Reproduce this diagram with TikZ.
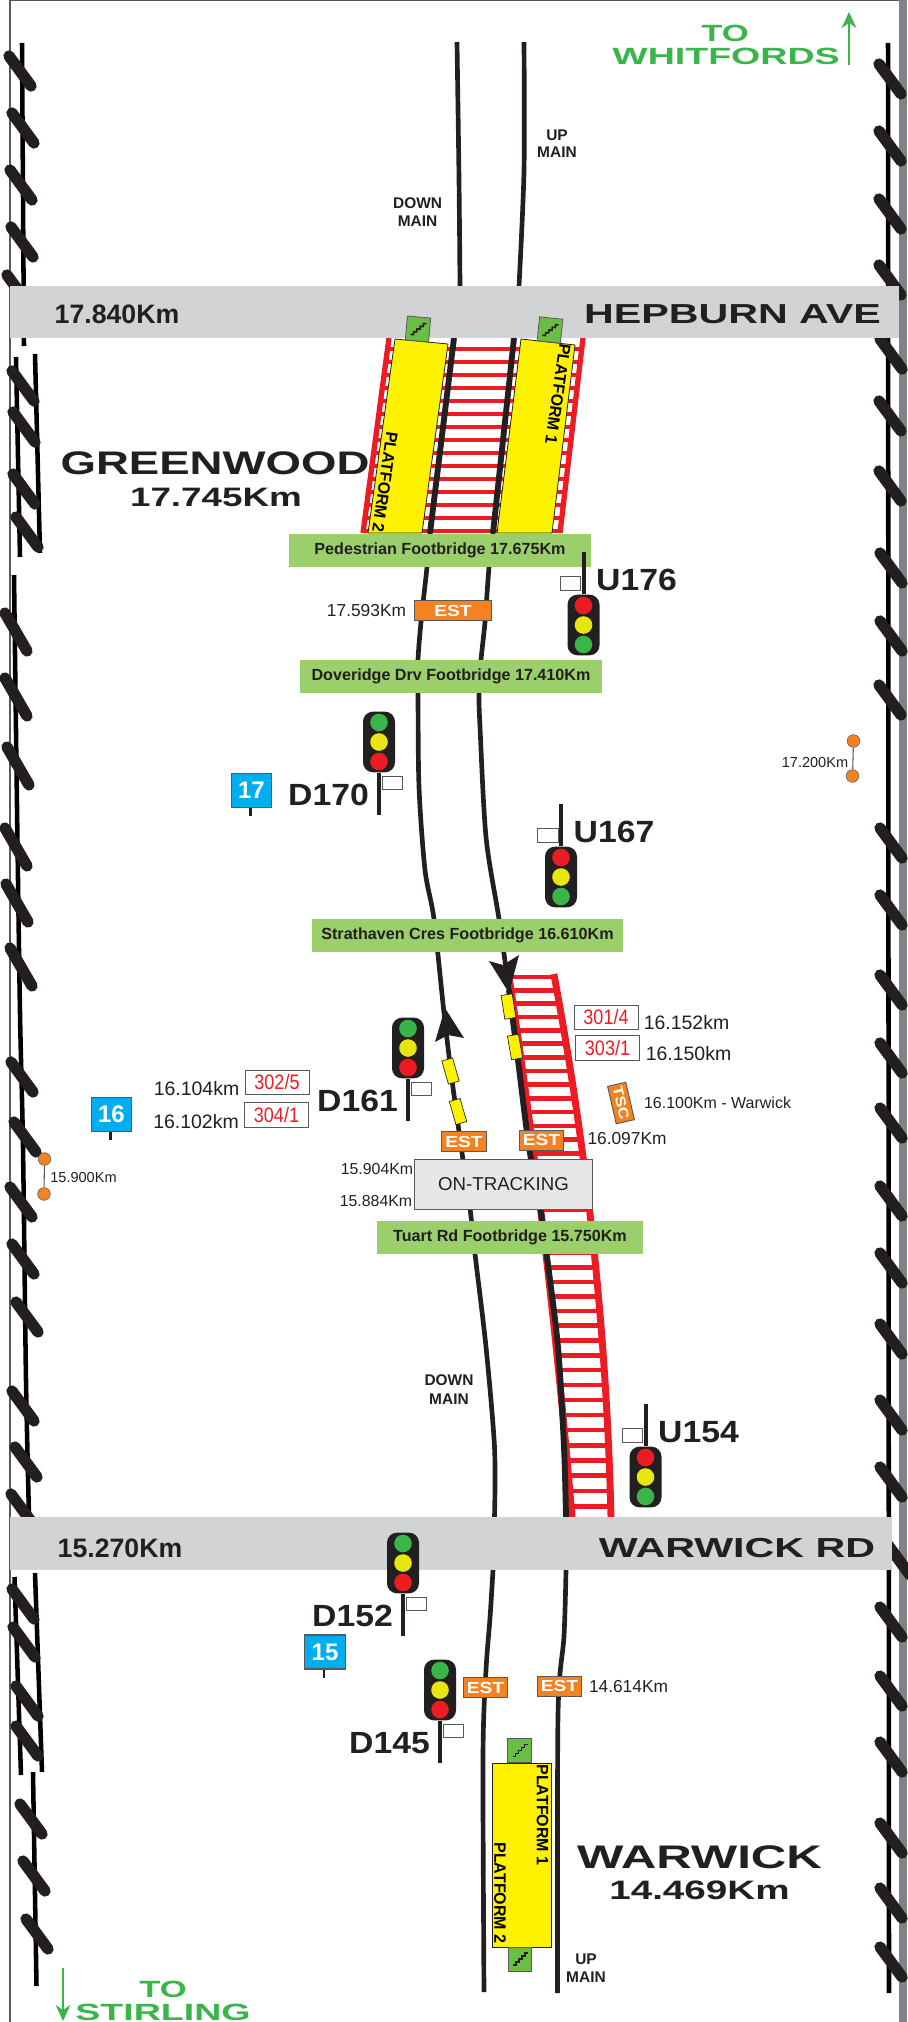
\documentclass[tikz,border=0pt]{standalone}
\usepackage{fontspec}
\setmainfont{Liberation Sans}
\usetikzlibrary{arrows.meta,calc,positioning,shapes.geometric}
\definecolor{mapink}{HTML}{231F20}
\definecolor{mapedge}{HTML}{58595B}
\definecolor{roadgray}{HTML}{D1D3D4}
\definecolor{bandgray}{HTML}{808285}
\definecolor{railred}{HTML}{ED1C24}
\definecolor{platyellow}{HTML}{FFF200}
\definecolor{stairgreen}{HTML}{6ABD45}
\definecolor{bridgegreen}{HTML}{9BCF6C}
\definecolor{estorange}{HTML}{F58220}
\definecolor{postblue}{HTML}{00AEEF}
\definecolor{lampgreen}{HTML}{39B54A}
\definecolor{lampyellow}{HTML}{E8E60F}
\definecolor{trackbox}{HTML}{E6E7E8}
\tikzset{
  mainline/.style={draw=mapink, line width=3.5pt},
  heavyline/.style={draw=mapink, line width=4.4pt},
  fenceline/.style={draw=black, line width=3.4pt},
  fencetick/.style={draw=mapink, line width=8.5pt, line cap=round},
  redrail/.style={draw=railred, line width=4pt},
  ladderrail/.style={draw=railred, line width=5.2pt},
  sleeper/.style={draw=railred, line width=3.4pt},
  platform/.style={draw=mapink, fill=platyellow, line width=.6pt},
  platlabel/.style={font=\fontsize{12}{12}\bfseries, text=black, inner sep=0pt, xscale=1.03},
  stairbox/.style={draw=mapedge, fill=stairgreen, line width=.6pt, minimum width=17.5pt, minimum height=18pt, inner sep=0pt},
  stairline/.style={draw=mapink, line width=1.2pt},
  roadband/.style={draw=none, fill=roadgray},
  roadkm/.style={font=\fontsize{20}{20}\bfseries, text=mapink, inner sep=0pt},
  roadname/.style={font=\fontsize{20.6}{21}\bfseries, text=mapink, inner sep=0pt, xscale=1.5},
  stationname/.style={font=\fontsize{24.5}{25}\bfseries, text=mapink, inner sep=0pt, xscale=1.395},
  stationkm/.style={font=\fontsize{20}{20}\bfseries, text=mapink, inner sep=0pt, xscale=1.38},
  signame/.style={font=\fontsize{23}{23}\bfseries, text=mapink, inner sep=0pt, xscale=1.1},
  sighead/.style={draw=none, fill=mapink, rounded corners=7.5pt, minimum width=24pt, minimum height=45.5pt, inner sep=0pt},
  lamp/.style={circle, draw=none, minimum size=13.2pt, inner sep=0pt},
  sigpost/.style={draw=mapink, line width=3pt},
  sigflag/.style={draw=mapedge, fill=white, line width=.7pt, minimum width=15.5pt, minimum height=10pt, inner sep=0pt},
  bridge/.style={draw=none, fill=bridgegreen, font=\fontsize{12.1}{12}\bfseries, text=mapink, minimum height=25pt, inner sep=0pt},
  estbox/.style={draw=mapedge, fill=estorange, line width=.7pt, text=white, font=\fontsize{12}{13}\bfseries, minimum height=15pt, minimum width=28pt, inner sep=0pt, xscale=1.2},
  kmtext/.style={font=\fontsize{#1}{#1}\selectfont, text=mapink, inner sep=0pt},
  mainlabel/.style={font=\fontsize{11.6}{12}\bfseries, text=mapink, inner sep=0pt},
  repairbox/.style={draw=mapedge, fill=white, line width=.7pt, font=\fontsize{15.7}{16}\selectfont, text=railred, minimum width=55.8pt, minimum height=18.5pt, inner sep=0pt, xscale=.86},
  kmpostbox/.style={draw=mapedge, fill=postblue, line width=.9pt, font=\fontsize{18}{18}\bfseries, text=white, minimum width=30.5pt, minimum height=25.5pt, inner sep=0pt},
  kmpostleg/.style={draw=mapink, line width=1.6pt},
  yellowmark/.style={draw=mapink, fill=platyellow, line width=.5pt, minimum width=18pt, minimum height=8.4pt, inner sep=0pt},
  bigarrow/.style={draw=none, fill=mapink},
  kmdot/.style={circle, draw=mapedge, fill=estorange, line width=.4pt, minimum size=9.5pt, inner sep=0pt},
  kmbar/.style={draw=mapedge, line width=.8pt},
  dirlabel/.style={font=\fontsize{17.6}{18}\bfseries, text=lampgreen, inner sep=0pt, xscale=1.6},
  dirarrow/.style={draw=lampgreen, line width=.8pt, -{Stealth[length=12pt,width=11pt]}}
}
% signal with the post above the head, red lamp on top
\newcommand{\upsignal}[4]{
  \node[sighead] (#1head) at (#2,#3) {};
  \coordinate (#1end) at (#2,#3-73);
  \draw[sigpost] (#1head) -- (#1end);
  \node[lamp, fill=railred] (#1a) at (#2,#3-19.5) {};
  \node[lamp, fill=lampyellow] (#1b) at (#2,#3) {};
  \node[lamp, fill=lampgreen] (#1c) at (#2,#3+19.5) {};
  \node[sigflag] (#1flag) at (#2-13,#3-41.5) {};
  \node[signame] (#1name) at (#2+53,#3-45) {#4};
}
% signal with the post below the head, green lamp on top
\newcommand{\downsignal}[4]{
  \node[sighead] (#1head) at (#2,#3) {};
  \coordinate (#1end) at (#2,#3+73);
  \draw[sigpost] (#1head) -- (#1end);
  \node[lamp, fill=lampgreen] (#1a) at (#2,#3-19.5) {};
  \node[lamp, fill=lampyellow] (#1b) at (#2,#3) {};
  \node[lamp, fill=railred] (#1c) at (#2,#3+19.5) {};
  \node[sigflag] (#1flag) at (#2+13.5,#3+41) {};
  \node[signame] (#1name) at (#2-50.5,#3+53) {#4};
}
\newcommand{\kmpost}[4]{
  \coordinate (#1foot) at (#2-1,#3+25.5);
  \draw[kmpostleg] (#2-1,#3) -- (#1foot);
  \node[kmpostbox] (#1) at (#2,#3) {#4};
}
\newcommand{\stairs}[4]{
  \node[stairbox, rotate=#4] (#1) at (#2,#3) {};
  \draw[stairline, shift={(#2,#3)}, rotate=#4]
    (-7,6) -- (-4,6) -- (-4,3) -- (-1,3) -- (-1,0) -- (2,0) -- (2,-3) -- (5,-3) -- (5,-6) -- (8,-6);
}
\begin{document}
\begin{tikzpicture}[x=.75pt,y=-.75pt,
    declare function={
      ladderout(\t)=555+99.3*((\t-980)/537)-43.3*((\t-980)/537)*((\t-980)/537);
      ladderin(\t)=511+78.5*((\t-990)/527)-17.5*((\t-990)/527)*((\t-990)/527);
    }]
  \useasboundingbox (0,0) rectangle (907,2022);
  % sheet edge
  \fill[bandgray] (899,0) rectangle (907,2022);
  \draw[mapedge, line width=.8pt] (10,2022) -- (10,.5) -- (899,.5);

  % fence lines either side of the corridor
  \draw[fenceline] (22,43) -- (24,346);
  \draw[fenceline] (16,357) -- (20,557);
  \draw[fenceline] (35,354) -- (40,553);
  \draw[fenceline] plot[smooth] coordinates {(14,575) (17,806) (20,1013) (23,1147) (26,1380) (29,1517)};
  \draw[fenceline] (14.5,1577) -- (21,1775);
  \draw[fenceline] (35,1573) -- (42,1772);
  \draw[fenceline] (33,1772) -- (36.5,1986);
  \draw[fenceline] (888,43) -- (889,1993);
  \foreach \x/\y in {20/71,23/128,21/185,22/242,18/290,23/386,24/427,24/489,27/532,
      22/1077,25/1137,21/1202,23/1259,27/1317,23/1406,26/1462,22/1509,
      23/1604,24/1642,27/1701,27/1741,31/1819,34/1876,37/1934,
      890/79,890/146,890/214,890/280,891/354,890/416,890/486,
      891/568,891/636,890/700,891/843,891/910,891/990,
      891/1058,891/1123,891/1201,891/1268,891/1339,891/1415,891/1482,899/1560,
      891/1622,891/1691,891/1757,891/1838,891/1903,891/1962} {
    \draw[fencetick] (\x-11,\y-15) -- (\x+11,\y+15);
  }
  \foreach \x/\y in {16/632,16/697,18/766,16/847,17/903,21/967} {
    \draw[fencetick] (\x-11,\y-19) -- (\x+11,\y+19);
  }

  % sleepers and outer rails
  \foreach \y in {349,362,...,531} {
    \draw[sleeper] ({389-(\y-338)*.134},\y) -- ({583-(\y-338)*.118},\y);
  }
  \draw[redrail] (389,338) -- (363,533);
  \draw[redrail] (583,338) -- (560,533);
  \foreach \n in {0,...,38} {
    \pgfmathsetmacro\y{977+13.2*\n+.03*\n*\n}
    \draw[sleeper] ({ladderin(\y)},\y) -- ({ladderout(\y)},\y);
  }
  \draw[ladderrail] plot[domain=974:1517,samples=40] ({ladderout(\x)},\x);
  \draw[ladderrail] plot[domain=974:1517,samples=40] ({ladderin(\x)},\x);

  % running lines
  \draw[mainline] plot[smooth] coordinates {(457,42) (459,179) (460,286)};
  \draw[mainline] plot[smooth] coordinates {(524,42) (524,171) (519,286)};
  \draw[heavyline] (454,338) -- (430,533);
  \draw[heavyline] (514,338) -- (493,533);
  \draw[mainline] plot[smooth] coordinates {(430,533) (427,567) (421,622) (418,660) (418,693)
    (419,787) (425,870) (434,919) (444,1013) (452,1080) (463,1160) (470,1208) (475,1254)
    (486,1347) (494.5,1447) (494.5,1517)};
  \draw[mainline] plot[smooth] coordinates {(493,533) (489,567) (485,622) (481,660) (479,693)
    (480,727) (486,837) (499,919) (509,990)};
  \draw[heavyline] plot[smooth] coordinates {(509,990) (518,1060) (529,1147) (541,1213) (547,1257)
    (558,1347) (564,1447) (566,1517)};
  \draw[mainline] plot[smooth] coordinates {(493,1570) (490,1618) (486,1670) (483,1756) (484,1992)};
  \draw[mainline] plot[smooth] coordinates {(566,1570) (564,1636) (558,1715) (557.5,1993)};
  \node[mainlabel] (upmainb) at (557,152.5) {MAIN};
  \node[mainlabel] (upmaina) at (557,135) {UP};
  \node[mainlabel] (downmaina) at (417.6,203.5) {DOWN};
  \node[mainlabel] (downmainb) at (417.6,221.5) {MAIN};
  \node[mainlabel] (downmainc) at (449,1380) {DOWN};
  \node[mainlabel] (downmaind) at (449,1399) {MAIN};
  \node[mainlabel] (upmainc) at (586,1959) {UP};
  \node[mainlabel] (upmaind) at (586,1977) {MAIN};

  % road crossings
  \node[roadband, minimum width=667pt, minimum height=39pt, inner sep=0pt] (hepburn) at (454.5,312) {};
  \node[roadkm] (hepburnkm) at (117,314) {17.840Km};
  \node[roadname] (hepburnname) at (732.5,314) {HEPBURN AVE};
  \node[roadband, minimum width=661.5pt, minimum height=40pt, inner sep=0pt] (warwickrd) at (451,1543.5) {};
  \node[roadkm] (warwickkm) at (120,1548) {15.270Km};
  \node[roadname] (warwickname) at (737,1548) {WARWICK RD};

  % platforms
  \draw[platform] (395,339) -- (448,344) -- (422,533) -- (368,533) -- cycle;
  \draw[platform] (521,339) -- (575,345) -- (552,533) -- (497,533) -- cycle;
  \node[platlabel, rotate=-98] (greenwoodtwo) at (385,482) {PLATFORM 2};
  \node[platlabel, rotate=-98] (greenwoodone) at (558,394) {PLATFORM 1};
  \stairs{greenstairtwo}{418}{329}{-5}
  \stairs{greenstairone}{550}{330}{-6}
  \draw[platform] (492,1763) rectangle (551,1947);
  \node[platlabel, rotate=-90] (warwickone) at (542.5,1815) {PLATFORM 1};
  \node[platlabel, rotate=-90] (warwicktwo) at (500,1893) {PLATFORM 2};
  \stairs{warstairtop}{519.5}{1750.5}{0}
  \stairs{warstairlow}{520}{1959}{0}

  % footbridges
  \node[bridge, minimum width=226.5pt] (pedbridge) at (440,550.5) {Pedestrian Footbridge 17.675Km};
  \node[bridge, minimum width=226.5pt] (dovebridge) at (451,676.5) {Doveridge Drv Footbridge 17.410Km};
  \node[bridge, minimum width=233pt] (strathbridge) at (467.5,935.5) {Strathaven Cres Footbridge 16.610Km};
  \node[bridge, minimum width=199.5pt] (tuartbridge) at (510,1237.5) {Tuart Rd Footbridge 15.750Km};

  % direction arrows on the lines
  \fill[bigarrow] (509,993) -- (519,955) -- (503,965) -- (489,961) -- cycle;
  \fill[bigarrow] (445,1008) -- (464,1038) -- (448,1035) -- (435,1042) -- cycle;
  \node[yellowmark, rotate=-81] (marka) at (508.5,1006.5) {};
  \node[yellowmark, rotate=-80] (markb) at (515,1047) {};
  \node[yellowmark, rotate=-74] (markc) at (450.5,1071) {};
  \node[yellowmark, rotate=-74] (markd) at (458,1111.5) {};

  % signals
  \upsignal{usix}{583.5}{625}{U176}
  \upsignal{useven}{561}{877}{U167}
  \upsignal{ufour}{645.5}{1477}{U154}
  \downsignal{dseventy}{379}{742}{D170}
  \downsignal{dsixty}{408}{1048}{D161}
  \downsignal{dtwo}{403}{1563}{D152}
  \downsignal{dfive}{440}{1690}{D145}
  \kmpost{postseventeen}{251.5}{790.5}{17}
  \kmpost{postsixteen}{111.5}{1114.5}{16}
  \kmpost{postfifteen}{325}{1652}{15}

  % site boxes and chainage
  \node[estbox, minimum width=48.3pt] (esta) at (453,610.5) {EST};
  \node[kmtext=13] (estakm) at (366.5,611) {17.593Km};
  \node[estbox] (estb) at (464,1141.5) {EST};
  \node[estbox] (estc) at (541.5,1140) {EST};
  \node[kmtext=13] (estckm) at (627,1139) {16.097Km};
  \node[estbox] (estd) at (485.5,1687.5) {EST};
  \node[estbox] (este) at (559.5,1686) {EST};
  \node[kmtext=13] (estekm) at (628.5,1687) {14.614Km};
  \node[repairbox] (repaira) at (277,1082.5) {302/5};
  \node[repairbox] (repairb) at (276.5,1115) {304/1};
  \node[repairbox] (repairc) at (606,1017.5) {301/4};
  \node[repairbox] (repaird) at (607.5,1048) {303/1};
  \node[kmtext=14.6] (repairakm) at (196.5,1089) {16.104km};
  \node[kmtext=14.6] (repairbkm) at (196,1122) {16.102km};
  \node[kmtext=14.6] (repairckm) at (686.5,1023) {16.152km};
  \node[kmtext=14.6] (repairdkm) at (688.5,1054) {16.150km};
  \node[draw=mapedge, fill=estorange, line width=.7pt, rotate=-77, xscale=1.2, text=white,
    font=\fontsize{10.5}{11}\bfseries, minimum width=24pt, minimum height=14pt, inner sep=0pt] (tsc) at (621,1103) {TSC};
  \node[kmtext=12] (tsckm) at (717.5,1103) {16.100Km - Warwick};
  \node[draw=mapedge, fill=trackbox, line width=.8pt, font=\fontsize{14}{15}\selectfont, text=mapink,
    minimum width=133pt, minimum height=37pt, inner sep=0pt] (ontrack) at (503.5,1184.5) {ON-TRACKING};
  \node[kmtext=11.9] (ontracka) at (377,1169) {15.904Km};
  \node[kmtext=11.9] (ontrackb) at (376,1201) {15.884Km};

  % chainage pegs
  \node[kmdot] (pegaa) at (853.5,741) {};
  \node[kmdot] (pegab) at (852.5,776) {};
  \draw[kmbar] (pegaa) -- (pegab);
  \node[kmtext=10.9] (pegakm) at (815,762) {17.200Km};
  \node[kmdot] (pegba) at (44.5,1159) {};
  \node[kmdot] (pegbb) at (44,1194) {};
  \draw[kmbar] (pegba) -- (pegbb);
  \node[kmtext=10.9] (pegbkm) at (83.5,1177) {15.900Km};

  % stations
  \node[stationname] (greenwood) at (215,463) {GREENWOOD};
  \node[stationkm] (greenwoodkm) at (216,497.5) {17.745Km};
  \node[stationname, xscale=1.079] (warwick) at (699.5,1857) {WARWICK};
  \node[stationkm, xscale=1.05] (warwickstkm) at (699.5,1890) {14.469Km};

  % towards
  \node[dirlabel, xscale=.92] (towhit) at (725,33) {TO};
  \node[dirlabel] (whitfords) at (726,56) {WHITFORDS};
  \coordinate (whitfoot) at (849,65);
  \coordinate (whittip) at (849,12);
  \draw[dirarrow] (whitfoot) -- (whittip);
  \node[dirlabel, xscale=.92] (tostir) at (163,1989) {TO};
  \node[dirlabel] (stirling) at (163,2012) {STIRLING};
  \coordinate (stirfoot) at (63,1968);
  \coordinate (stirtip) at (63,2021);
  \draw[dirarrow] (stirfoot) -- (stirtip);
\end{tikzpicture}
\end{document}
